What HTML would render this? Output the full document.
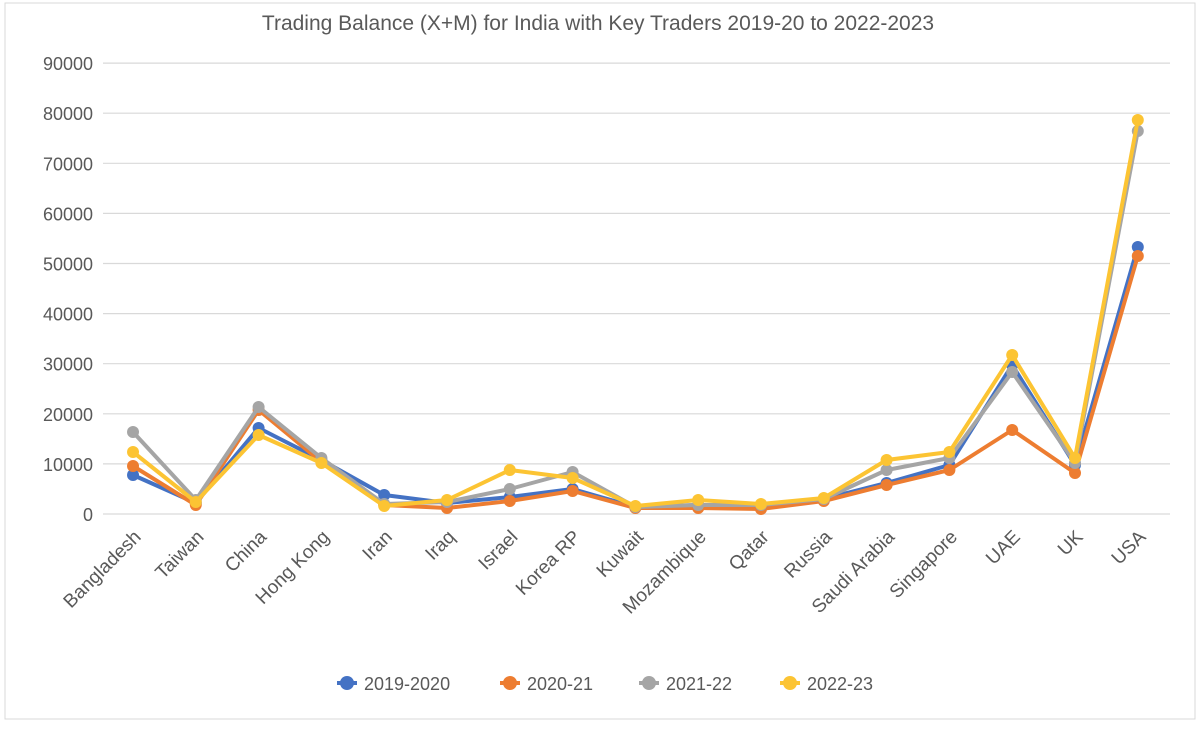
<!DOCTYPE html>
<html><head><meta charset="utf-8"><style>
body{margin:0;background:#fff;width:1200px;height:725px;overflow:hidden}
svg text{font-family:"Liberation Sans",sans-serif;fill:#595959}
</style></head><body>
<svg id="s" width="1200" height="725" xmlns="http://www.w3.org/2000/svg">
<rect x="5" y="3" width="1190" height="716" fill="#fff" stroke="#d9d9d9" stroke-width="1"/>
<text x="598" y="30" font-size="21" text-anchor="middle">Trading Balance (X+M) for India with Key Traders 2019-20 to 2022-2023</text>
<g id="grid"></g><g id="series"></g><g id="xl"></g>
<g font-size="18">
<circle cx="347" cy="683" r="7" fill="#4472c4"/><line x1="337" y1="683" x2="357" y2="683" stroke="#4472c4" stroke-width="4"/><text x="364" y="690">2019-2020</text>
<circle cx="510" cy="683" r="7" fill="#ed7d31"/><line x1="500" y1="683" x2="520" y2="683" stroke="#ed7d31" stroke-width="4"/><text x="527" y="690">2020-21</text>
<circle cx="649" cy="683" r="7" fill="#a5a5a5"/><line x1="639" y1="683" x2="659" y2="683" stroke="#a5a5a5" stroke-width="4"/><text x="666" y="690">2021-22</text>
<circle cx="790" cy="683" r="7" fill="#fcc433"/><line x1="780" y1="683" x2="800" y2="683" stroke="#fcc433" stroke-width="4"/><text x="807" y="690">2022-23</text>
</g>
</svg>
<script>
var NS="http://www.w3.org/2000/svg";
function el(p,t,a,txt){var e=document.createElementNS(NS,t);for(var k in a)e.setAttribute(k,a[k]);if(txt)e.textContent=txt;p.appendChild(e);return e;}
var g=document.getElementById('grid');
for(var i=0;i<=9;i++){var y=514-i*50.1;el(g,'line',{x1:103,x2:1170,y1:y,y2:y,stroke:'#d9d9d9','stroke-width':1.2});
el(g,'text',{x:93,y:y+7,'font-size':18,'text-anchor':'end'},String(i*10000));}
var names=["Bangladesh","Taiwan","China","Hong Kong","Iran","Iraq","Israel","Korea RP","Kuwait","Mozambique","Qatar","Russia","Saudi Arabia","Singapore","UAE","UK","USA"];
var xl=document.getElementById('xl');
function X(i){return 133+i*62.8;}
names.forEach(function(n,i){var x=X(i)+9,y=538;el(xl,'text',{x:x,y:y,'font-size':19,'text-anchor':'end',transform:'rotate(-45 '+x+' '+y+')'},n);});
var data=[
["#4472c4",[475,503,428,460,495,503,497,489,507,505,507,499,483,465,365,465,247]],
["#ed7d31",[466,505,410,462,505,508,501,491,508,508,509,501,485,470,430,473,256]],
["#a5a5a5",[432,500,407,458,504,502,489,472,507,505,505,499,470,458,372,463,131]],
["#fcc433",[452,502,435,463,506,500,470,478,506,500,504,498,460,452,355,458,120]]];
var s=document.getElementById('series');
data.forEach(function(d){var pts=d[1].map(function(y,i){return X(i)+','+y;}).join(' ');
el(s,'polyline',{points:pts,fill:'none',stroke:d[0],'stroke-width':4,'stroke-linejoin':'round'});
d[1].forEach(function(y,i){el(s,'circle',{cx:X(i),cy:y,r:6,fill:d[0]});});});
</script>
</body></html>
